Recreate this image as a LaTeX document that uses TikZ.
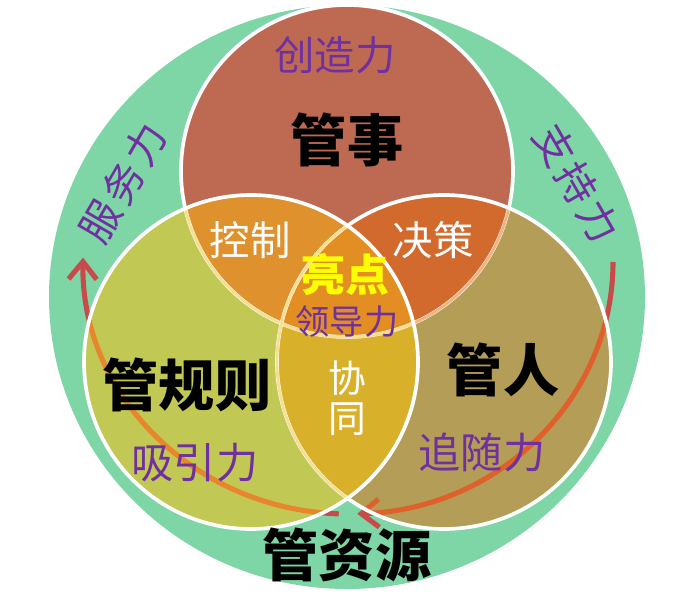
\documentclass[tikz,border=0pt]{standalone}
\usepackage{fontspec}
\usepackage{tikz}
\usetikzlibrary{arrows.meta}
\newfontfamily\cjk{Noto Sans CJK SC}
\definecolor{ringC}{RGB}{126,214,167}
\definecolor{shiC}{RGB}{190,106,82}
\definecolor{guizeC}{RGB}{193,200,84}
\definecolor{renC}{RGB}{180,157,87}
\definecolor{kongzhiC}{RGB}{222,145,44}
\definecolor{juceC}{RGB}{211,106,45}
\definecolor{xietongC}{RGB}{217,176,42}
\definecolor{liangdianC}{RGB}{227,142,34}
\definecolor{liC}{RGB}{112,48,160}
\definecolor{arrowC}{RGB}{200,75,75}
\definecolor{arrowL}{RGB}{232,134,46}
\definecolor{arrowR}{RGB}{224,96,44}
\definecolor{creamC}{RGB}{245,224,145}
\definecolor{peachC}{RGB}{240,180,130}

\begin{document}
\begin{tikzpicture}[x=0.02cm,y=0.02cm,
  force/.style={text=liC,font=\cjk\fontsize{23}{25}\selectfont},
  big/.style={font=\cjk\bfseries\fontsize{32}{34}\selectfont},
  inner/.style={text=white,font=\cjk\fontsize{23}{25}\selectfont},
  rim/.style={white,line width=2.1pt},
  ring arrow/.style={line width=2.9pt,-{Straight Barb[length=10pt,width=16pt]}}]
\useasboundingbox (0,0) rectangle (689,609);
\coordinate (ring) at (347,312);
\coordinate (shi) at (347,438);
\coordinate (guize) at (251,247);
\coordinate (ren) at (444,247);
\coordinate (ac) at (348,347);

\fill[ringC] (ring) ellipse [x radius=298,y radius=292];
\draw[ring arrow,arrowC] ([shift={(ac)}]-92:265 and 252) arc[start angle=-92,end angle=-181,x radius=265,y radius=252];
\draw[ring arrow,arrowC] ([shift={(ac)}]0:265 and 252) arc[start angle=0,end angle=-88,x radius=265,y radius=252];

\fill[shiC] (shi) circle (166);
\fill[guizeC] (guize) circle (167);
\fill[renC] (ren) circle (167);
\begin{scope}
  \clip (guize) circle (167);
  \fill[xietongC] (ren) circle (167);
  \draw[ring arrow,arrowL] ([shift={(ac)}]-92:265 and 252) arc[start angle=-92,end angle=-181,x radius=265,y radius=252];
\end{scope}
\begin{scope}
  \clip (ren) circle (167);
  \draw[ring arrow,arrowR] ([shift={(ac)}]0:265 and 252) arc[start angle=0,end angle=-88,x radius=265,y radius=252];
\end{scope}
\begin{scope}
  \clip (shi) circle (166);
  \fill[kongzhiC] (guize) circle (167);
  \fill[juceC] (ren) circle (167);
  \clip (guize) circle (167);
  \fill[liangdianC] (ren) circle (167);
\end{scope}

\draw[rim] (shi) circle (166);
\begin{scope}
  \clip (ren) circle (167);
  \draw[rim,peachC,line width=1.6pt] (shi) circle (166);
\end{scope}
\begin{scope}
  \clip (guize) circle (167);
  \draw[rim,creamC,line width=1.6pt] (shi) circle (166);
\end{scope}
\draw[rim] (ren) circle (167);
\begin{scope}
  \clip (guize) circle (167);
  \draw[rim,creamC,line width=1.6pt] (ren) circle (167);
\end{scope}
\draw[rim] (guize) circle (167);

\node[force] (chuangzao) at (335,554) {创造力};
\node[big] (guanshi) at (347,469) {管事};
\node[force,rotate=60] (fuwu) at (123,426) {服\hspace{2.5pt}务\hspace{2.5pt}力};
\node[force,rotate=-60] (zhichi) at (577,426) {支\hspace{2pt}持\hspace{2pt}力};
\node[inner] (kongzhi) at (250,369) {控制};
\node[inner] (juece) at (433,369) {决策};
\node[text={rgb,255:red,255;green,255;blue,0},font=\cjk\bfseries\fontsize{25}{27}\selectfont] (liangdian) at (345,334) {亮点};
\node[force,font=\cjk\fontsize{19.5}{21}\selectfont] (lingdao) at (347,287) {领导力};
\node[big] (guanguize) at (187,224) {管规则};
\node[inner,align=center,font=\cjk\fontsize{21.5}{23}\selectfont] (xietong) at (347,211) {协\\同};
\node[big] (guanren) at (503,239) {管人};
\node[force,font=\cjk\fontsize{24}{26}\selectfont] (xiyin) at (195,146) {吸引力};
\node[force,font=\cjk\fontsize{24}{26}\selectfont] (zhuisui) at (482,157) {追随力};
\node[big] (guanziyuan) at (347,54) {管资源};
\end{tikzpicture}
\end{document}
